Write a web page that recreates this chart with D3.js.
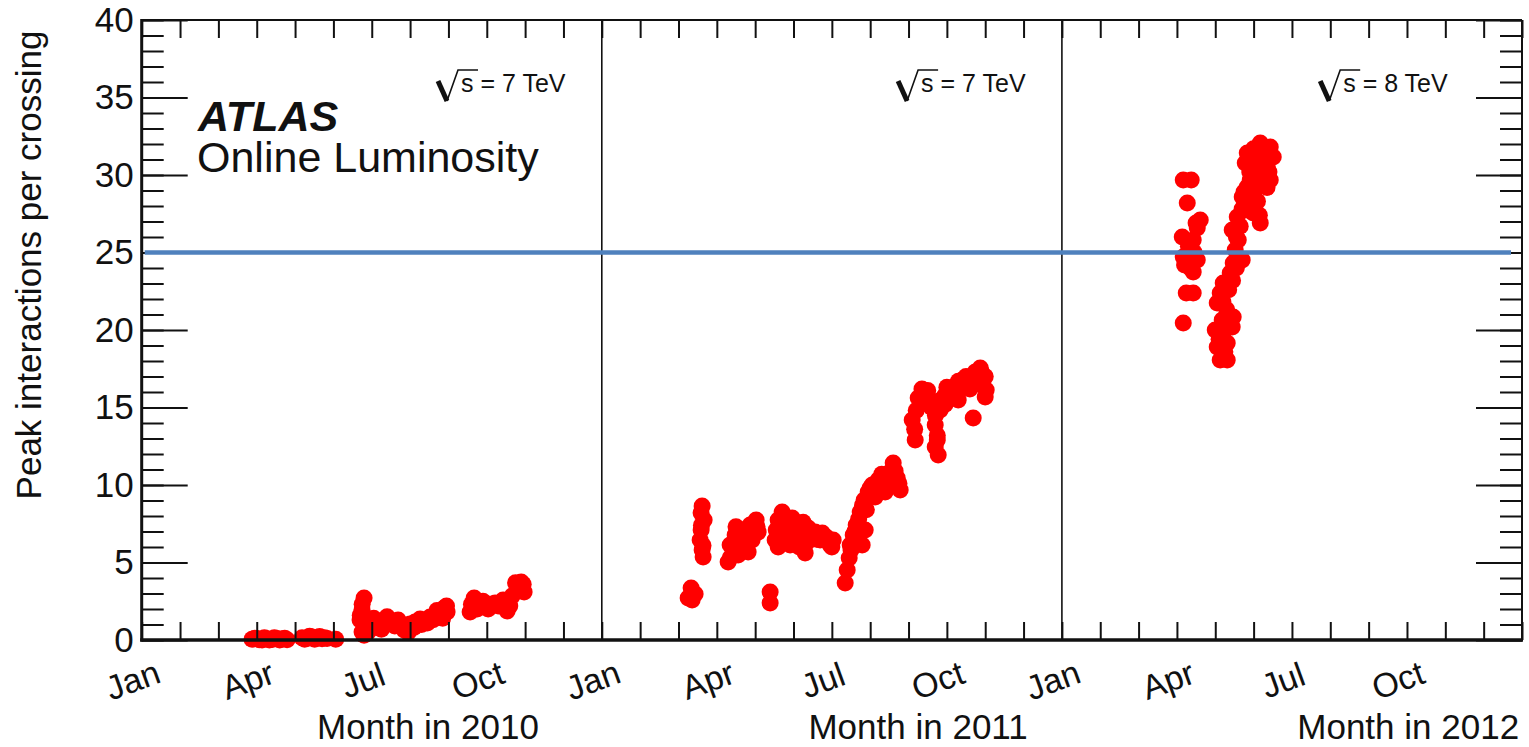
<!DOCTYPE html>
<html>
<head>
<meta charset="utf-8">
<script src="https://cdn.jsdelivr.net/npm/d3@7/dist/d3.min.js"></script>
<style>
  html, body { margin: 0; padding: 0; background: #fff; }
  svg { display: block; }
  text { font-family: "Liberation Sans", Arial, Helvetica, sans-serif; fill: #111; }
</style>
</head>
<body>
<svg id="chart" width="1529" height="747"></svg>
<script>
// Peak interactions per bunch crossing, per fill, month in year (0 = 1 Jan)
const peak2010 = [
  [2.878, 0.05], [2.95, 0.12], [3.008, 0.10], [3.07, 0.02], [3.139, 0.00], [3.20, 0.15],
  [3.269, 0.08], [3.33, 0.00], [3.400, 0.03], [3.46, 0.14], [3.530, 0.10], [3.60, 0.00],
  [3.660, 0.06], [3.73, 0.12], [3.791, 0.02],
  [4.182, 0.15], [4.25, 0.05], [4.313, 0.10], [4.38, 0.25], [4.443, 0.20], [4.51, 0.05],
  [4.573, 0.12], [4.64, 0.22], [4.704, 0.08], [4.77, 0.15], [4.834, 0.10], [5.060, 0.05],
  [5.695, 1.29], [5.747, 0.52], [5.747, 1.94], [5.800, 2.71], [5.852, 0.97],
  [5.904, 0.52], [6.008, 0.77], [5.75, 2.30], [5.70, 1.60], [5.80, 0.30], [5.95, 1.20],
  [6.05, 1.40],
  [6.165, 1.16], [6.347, 1.29], [6.530, 1.03], [6.687, 1.29], [6.843, 0.65],
  [7.000, 1.03], [7.130, 1.16], [7.261, 1.35], [7.391, 1.23], [7.522, 1.48],
  [7.652, 1.61], [7.783, 1.55], [7.887, 2.06], [7.965, 1.81],
  [6.25, 0.70], [6.40, 1.50], [6.60, 0.90], [6.75, 1.00], [6.95, 0.50], [7.10, 0.80],
  [7.30, 1.00], [7.45, 1.10], [7.60, 1.30], [7.70, 1.90], [7.85, 1.40], [7.95, 2.20],
  [8.566, 1.81], [8.671, 2.71], [8.827, 2.19], [9.036, 2.00], [9.218, 2.39],
  [9.427, 2.58], [9.531, 1.87], [9.662, 2.84], [9.792, 3.35], [9.897, 3.74],
  [9.974, 3.10], [8.60, 2.30], [8.75, 2.00], [8.90, 2.50], [9.10, 2.30], [9.30, 2.20],
  [9.60, 2.20], [9.75, 3.70], [9.85, 3.20], [9.95, 3.60], [9.55, 2.50]
];
const peak2011 = [
  [2.252, 2.71], [2.330, 3.35], [2.434, 2.97], [2.356, 2.58],
  [2.617, 8.65], [2.669, 7.74], [2.591, 7.10], [2.565, 6.45], [2.617, 5.81], [2.643, 5.35],
  [2.60, 7.40], [2.64, 6.10], [2.59, 8.20],
  [3.295, 5.03], [3.347, 6.13], [3.478, 6.77], [3.556, 5.48], [3.660, 7.10],
  [3.739, 6.13], [3.869, 7.42], [3.921, 6.45], [4.026, 7.74], [4.078, 6.97], [3.817, 5.68],
  [3.35, 5.30], [3.45, 5.90], [3.60, 6.30], [3.70, 6.80], [3.80, 7.00], [3.95, 7.20],
  [4.05, 7.30], [3.50, 7.30], [3.65, 5.70],
  [4.391, 3.10], [4.391, 2.39],
  [4.521, 6.45], [4.599, 7.74], [4.704, 8.26], [4.782, 7.10], [4.912, 6.13],
  [4.965, 7.87], [5.121, 7.23], [5.226, 6.45], [5.304, 5.61], [5.382, 7.23],
  [5.565, 6.97], [5.695, 6.45], [5.852, 6.65], [5.956, 6.13], [6.035, 6.45],
  [4.55, 7.10], [4.65, 6.60], [4.75, 7.70], [4.85, 6.80], [4.90, 7.50], [5.00, 7.00],
  [5.05, 6.40], [5.15, 6.00], [5.25, 7.60], [5.35, 6.30], [5.45, 7.00], [5.60, 6.50],
  [5.75, 6.90], [5.90, 6.50], [6.00, 6.00], [4.60, 6.00],
  [6.348, 3.68], [6.400, 4.52], [6.452, 5.29], [6.478, 6.13], [6.557, 6.77],
  [6.635, 7.42], [6.687, 6.45], [6.791, 6.13], [6.870, 7.10], [6.739, 8.26],
  [6.843, 9.03], [6.948, 9.55], [7.052, 10.00], [7.208, 10.32], [7.391, 10.45],
  [7.522, 10.84], [7.600, 11.42], [7.704, 10.45], [7.782, 9.68], [7.391, 9.55],
  [7.130, 9.23], [6.50, 5.80], [6.60, 7.00], [6.70, 7.80], [6.80, 8.70], [6.90, 8.40],
  [7.00, 9.80], [7.10, 9.60], [7.25, 9.90], [7.30, 10.70], [7.45, 10.10], [7.55, 10.20],
  [7.65, 10.90], [7.75, 10.10],
  [8.096, 14.19], [8.174, 12.90], [8.252, 15.61], [8.435, 16.00], [8.565, 15.48],
  [8.696, 12.45], [8.696, 13.87], [8.774, 11.94], [8.826, 14.84], [8.957, 15.81],
  [9.087, 16.00], [9.217, 16.39], [9.296, 15.48], [9.400, 16.77], [9.557, 16.58],
  [9.661, 16.90], [9.739, 17.29], [9.870, 17.55], [9.948, 16.77], [10.026, 16.13],
  [9.687, 14.32], [10.000, 15.68], [8.20, 14.80], [8.30, 15.20], [8.35, 16.20],
  [8.50, 16.10], [8.60, 15.00], [8.70, 14.50], [8.75, 13.20], [8.85, 15.50], [8.95, 15.20],
  [9.00, 16.30], [9.15, 15.60], [9.30, 16.70], [9.45, 16.30], [9.50, 17.00], [9.60, 16.20],
  [9.80, 16.90], [9.90, 17.30], [10.00, 17.00], [9.75, 16.50], [8.16, 13.60], [8.75, 12.90]
];
const peak2012 = [
  [3.165, 29.68], [3.373, 29.68], [3.269, 28.19], [3.608, 27.10], [3.530, 26.58],
  [3.139, 26.00], [3.425, 25.81], [3.165, 24.71], [3.530, 24.52], [3.347, 25.16],
  [3.425, 23.74], [3.425, 22.39], [3.243, 22.39], [3.165, 20.45],
  [3.30, 25.40], [3.45, 25.00], [3.20, 24.20], [3.50, 26.90], [3.35, 24.00],
  [4.129, 18.06], [4.312, 18.06], [4.051, 18.90], [4.312, 19.16], [3.999, 20.00],
  [4.442, 20.19], [4.181, 20.65], [4.468, 20.84], [4.051, 21.74], [4.129, 22.39],
  [4.207, 23.03], [4.390, 23.68], [4.468, 24.32], [4.703, 24.52], [4.520, 25.16],
  [4.442, 26.45], [4.573, 27.29], [4.834, 27.74], [5.173, 26.90], [4.991, 27.55],
  [4.703, 28.58], [4.834, 29.23], [4.912, 29.68], [4.782, 30.77], [4.834, 31.42],
  [5.173, 32.06], [5.434, 31.81], [5.512, 31.16], [5.356, 30.52], [5.434, 29.68],
  [5.095, 30.97], [5.173, 30.32],
  [4.10, 19.40], [4.20, 19.80], [4.25, 18.60], [4.35, 20.40], [4.30, 21.30], [4.20, 21.80],
  [4.35, 22.60], [4.45, 23.20], [4.55, 24.00], [4.60, 25.80], [4.55, 26.00], [4.65, 26.70],
  [4.70, 27.80], [4.80, 28.00], [4.75, 28.90], [4.90, 30.20], [4.95, 31.20], [5.00, 31.70],
  [5.30, 31.60], [5.25, 30.90], [5.40, 30.20], [5.05, 29.70], [5.10, 28.30], [5.00, 28.90],
  [5.20, 29.30], [5.15, 27.40], [5.35, 29.20]
];

const years = [2010, 2011, 2012];
const energies = ["7", "7", "8"];
const monthNames = ["Jan", "Apr", "Jul", "Oct"];
const monthLabelAt = [0, 3, 6, 9];
const yTicks = [0, 5, 10, 15, 20, 25, 30, 35, 40];
const referenceLevel = 25;

const series = [peak2010, peak2011, peak2012];

// ---- layout ----
const svg = d3.select("#chart");
const plotL = 141.7, plotR = 1522, plotT = 20, plotB = 640;
const nMonths = 36;

const x = d3.scaleLinear().domain([0, nMonths]).range([plotL, plotR]);
const y = d3.scaleLinear().domain([0, 40]).range([plotB, plotT]);

const fontFamily = '"Liberation Sans", Arial, Helvetica, sans-serif';

const defs = svg.append("defs");
defs.append("filter").attr("id", "soft").attr("x", "-5%").attr("y", "-200%").attr("width", "110%").attr("height", "500%")
  .append("feGaussianBlur").attr("stdDeviation", 1.6);

// ---- data points ----
const pts = svg.append("g");
series.forEach((data, i) => {
  pts.append("g").selectAll("circle")
    .data(data)
    .join("circle")
    .attr("cx", d => x(i * 12 + d[0]))
    .attr("cy", d => y(d[1]))
    .attr("r", 8.5)
    .attr("fill", "#ff0000");
});

// ---- year dividers ----
svg.append("g").selectAll("line")
  .data([12, 24])
  .join("line")
  .attr("x1", d => x(d)).attr("x2", d => x(d))
  .attr("y1", plotT).attr("y2", plotB)
  .attr("stroke", "#111").attr("stroke-width", 1.6);

// ---- axes (ticks point inward on all four sides) ----
function styleAxis(g) {
  g.select(".domain").remove();
  g.selectAll(".tick line").attr("stroke", "#111").attr("stroke-width", 2);
}

const allMonths = d3.range(0, nMonths + 1);
const minorY = d3.range(0, 41);

svg.append("g").attr("transform", `translate(${plotL},0)`)
  .call(d3.axisLeft(y).tickValues(minorY).tickSize(-22).tickFormat(""))
  .call(styleAxis);
svg.append("g").attr("transform", `translate(${plotL},0)`)
  .call(d3.axisLeft(y).tickValues(yTicks).tickSize(-46).tickPadding(8).tickFormat(d3.format("d")))
  .call(styleAxis)
  .call(g => g.selectAll(".tick text")
    .attr("font-size", 35).attr("font-family", fontFamily).attr("fill", "#111"));

svg.append("g").attr("transform", `translate(${plotR},0)`)
  .call(d3.axisRight(y).tickValues(minorY).tickSize(-22).tickFormat(""))
  .call(styleAxis);
svg.append("g").attr("transform", `translate(${plotR},0)`)
  .call(d3.axisRight(y).tickValues(yTicks).tickSize(-46).tickFormat(""))
  .call(styleAxis);

svg.append("g").attr("transform", `translate(0,${plotB})`)
  .call(d3.axisBottom(x).tickValues(allMonths).tickSize(-18).tickFormat(""))
  .call(styleAxis);
svg.append("g").attr("transform", `translate(0,${plotT})`)
  .call(d3.axisTop(x).tickValues(allMonths).tickSize(-18).tickFormat(""))
  .call(styleAxis);

// ---- frame ----
svg.append("line").attr("x1", plotL).attr("x2", plotR).attr("y1", plotT).attr("y2", plotT)
  .attr("stroke", "#111").attr("stroke-width", 2);
svg.append("line").attr("x1", plotR).attr("x2", plotR).attr("y1", plotT).attr("y2", plotB)
  .attr("stroke", "#111").attr("stroke-width", 2);
svg.append("line").attr("x1", plotL).attr("x2", plotL).attr("y1", plotT - 1).attr("y2", plotB + 1.5)
  .attr("stroke", "#111").attr("stroke-width", 3);
svg.append("line").attr("x1", plotL - 1.5).attr("x2", plotR + 1).attr("y1", plotB).attr("y2", plotB)
  .attr("stroke", "#111").attr("stroke-width", 3.5);

// ---- month labels ----
const monthLabels = [];
years.forEach((yr, i) => monthLabelAt.forEach((m, j) => monthLabels.push({ pos: i * 12 + m, name: monthNames[j] })));
svg.append("g").selectAll("text")
  .data(monthLabels)
  .join("text")
  .attr("transform", d => `translate(${x(d.pos) - 9},680) rotate(-20)`)
  .attr("text-anchor", "middle")
  .attr("dominant-baseline", "central")
  .attr("font-size", 34)
  .text(d => d.name);

// ---- axis titles ----
const titleOffset = [286.3, 316.3, 346.3];
svg.append("g").selectAll("text")
  .data(years)
  .join("text")
  .attr("x", (d, i) => x(i * 12) + titleOffset[i])
  .attr("y", 739)
  .attr("text-anchor", "middle")
  .attr("font-size", 35)
  .text(d => `Month in ${d}`);

svg.append("text")
  .attr("transform", "translate(41,265) rotate(-90)")
  .attr("text-anchor", "middle")
  .attr("font-size", 35)
  .text("Peak interactions per crossing");

// ---- experiment label ----
svg.append("text")
  .attr("x", 198).attr("y", 131)
  .attr("font-size", 43).attr("font-weight", "bold").attr("font-style", "italic")
  .text("ATLAS");
svg.append("text")
  .attr("x", 197).attr("y", 172)
  .attr("font-size", 43)
  .text("Online Luminosity");

// ---- centre-of-mass energy labels ----
const energyOffset = [296.3, 296.3, 258.3];
years.forEach((yr, i) => {
  const g = svg.append("g").attr("transform", `translate(${x(i * 12) + energyOffset[i]},92)`);
  g.append("path").attr("d", "M0,-11 L9,9").attr("stroke", "#111").attr("stroke-width", 5).attr("fill", "none");
  g.append("path").attr("d", "M9,9 L20,-22 L40,-22").attr("stroke", "#111").attr("stroke-width", 1.6).attr("fill", "none");
  g.append("text").attr("x", 23).attr("y", 0).attr("font-size", 25)
    .attr("xml:space", "preserve")
    .text(`s = ${energies[i]} TeV`);
});

// ---- reference level ----
const ref = svg.append("g");
ref.append("line")
  .attr("x1", plotL + 3).attr("x2", 1511)
  .attr("y1", y(referenceLevel) + 3).attr("y2", y(referenceLevel) + 3)
  .attr("stroke", "rgba(0,0,0,0.35)").attr("stroke-width", 4)
  .attr("filter", "url(#soft)");
ref.append("line")
  .attr("x1", plotL + 3).attr("x2", 1511)
  .attr("y1", y(referenceLevel)).attr("y2", y(referenceLevel))
  .attr("stroke", "#4f81bd").attr("stroke-width", 4.5);
</script>
</body>
</html>
